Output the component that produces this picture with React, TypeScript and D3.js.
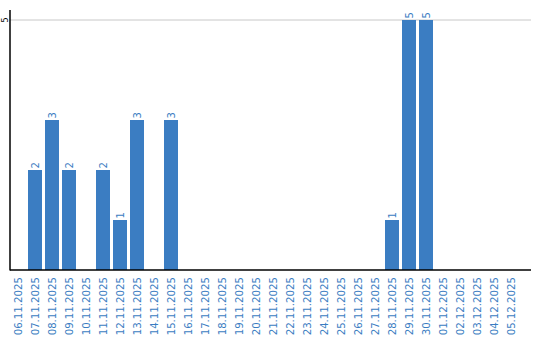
import React from "react";
import * as d3 from "d3";

const categories = [
  "06.11.2025","07.11.2025","08.11.2025","09.11.2025","10.11.2025",
  "11.11.2025","12.11.2025","13.11.2025","14.11.2025","15.11.2025",
  "16.11.2025","17.11.2025","18.11.2025","19.11.2025","20.11.2025",
  "21.11.2025","22.11.2025","23.11.2025","24.11.2025","25.11.2025",
  "26.11.2025","27.11.2025","28.11.2025","29.11.2025","30.11.2025",
  "01.12.2025","02.12.2025","03.12.2025","04.12.2025","05.12.2025",
];
const values = [0,2,3,2,0,2,1,3,0,3,0,0,0,0,0,0,0,0,0,0,0,0,1,5,5,0,0,0,0,0];
const yTicks = [5];

const W = 540, H = 340;
const left = 10, right = 531, top = 10, bottom = 270;
const BLUE = "#3b7dc2";
const FONT = "'DejaVu Sans', Verdana, sans-serif";

export default function App() {
  const x = d3.scaleBand<string>()
    .domain(categories)
    .range([left - 0.5, left - 0.5 + 510])
    .paddingInner(3 / 17)
    .paddingOuter(3 / 34);
  const y = d3.scaleLinear().domain([0, 5]).range([bottom, 20]);

  return (
    <svg width={W} height={H} style={{ position: "absolute", left: 0, top: 0 }}>
      {yTicks.map((t) => (
        <g key={t}>
          <line x1={left} x2={right} y1={y(t)} y2={y(t)} stroke="#c8c8c8" strokeWidth={1} />
          <text
            transform={`translate(${left - 2.5},${y(t)}) rotate(-90)`}
            textAnchor="middle"
            fontFamily={FONT}
            fontSize={8}
            fill="#000"
          >
            {t}
          </text>
        </g>
      ))}
      {categories.map((c, i) =>
        values[i] > 0 ? (
          <g key={c}>
            <rect
              x={x(c)}
              y={y(values[i])}
              width={x.bandwidth()}
              height={bottom - y(values[i])}
              fill={BLUE}
            />
            <text
              transform={`translate(${(x(c) as number) + x.bandwidth() / 2 + 3.5},${y(values[i]) - 1.5}) rotate(-90)`}
              textAnchor="start"
              fontFamily={FONT}
              fontSize={10}
              fill={BLUE}
            >
              {values[i]}
            </text>
          </g>
        ) : null
      )}
      {categories.map((c) => (
        <text
          key={"l" + c}
          transform={`translate(${(x(c) as number) + x.bandwidth() / 2 + 4},${bottom + 7}) rotate(-90)`}
          textAnchor="end"
          fontFamily={FONT}
          fontSize={10.2}
          fill={BLUE}
        >
          {c}
        </text>
      ))}
      <line x1={left} x2={left} y1={top} y2={bottom + 0.5} stroke="#000" strokeWidth={1.5} />
      <line x1={left} x2={right} y1={bottom} y2={bottom} stroke="#000" strokeWidth={1.5} />
    </svg>
  );
}
